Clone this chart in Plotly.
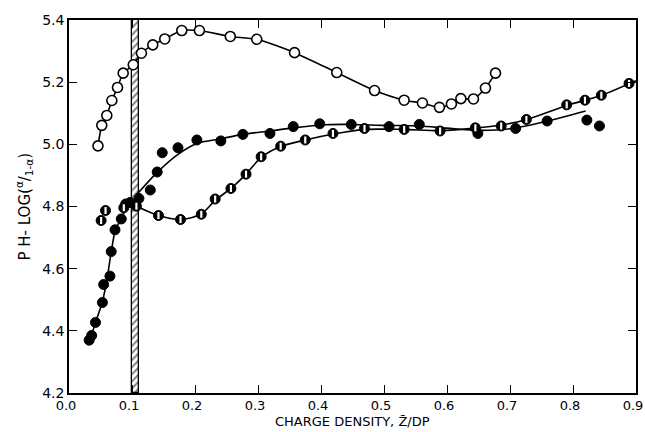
import plotly.graph_objects as go

# ---------------- data ----------------
open_x = [0.046, 0.052, 0.060, 0.068, 0.077, 0.086, 0.102, 0.115, 0.133, 0.152, 0.179, 0.207,
          0.256, 0.298, 0.358, 0.425, 0.485, 0.532, 0.561, 0.588, 0.607, 0.622, 0.642, 0.661, 0.677]
open_y = [4.995, 5.061, 5.093, 5.141, 5.183, 5.229, 5.256, 5.293, 5.320, 5.339, 5.366, 5.366,
          5.347, 5.338, 5.295, 5.231, 5.173, 5.142, 5.133, 5.119, 5.130, 5.147, 5.146, 5.181, 5.229]

filled_x = [0.032, 0.036, 0.042, 0.053, 0.055, 0.065, 0.067, 0.073, 0.083, 0.090, 0.097, 0.111,
            0.129, 0.140, 0.148, 0.173, 0.203, 0.241, 0.276, 0.319, 0.356, 0.398, 0.448, 0.508,
            0.556, 0.649, 0.709, 0.759, 0.822, 0.842]
filled_y = [4.370, 4.385, 4.427, 4.491, 4.549, 4.576, 4.655, 4.725, 4.760, 4.808, 4.813, 4.826,
            4.853, 4.911, 4.973, 4.989, 5.014, 5.011, 5.032, 5.035, 5.057, 5.066, 5.064, 5.057,
            5.064, 5.035, 5.051, 5.075, 5.078, 5.059]

half_x = [0.051, 0.058, 0.087, 0.107, 0.142, 0.177, 0.210, 0.232, 0.257, 0.281, 0.305, 0.336,
          0.375, 0.419, 0.469, 0.532, 0.589, 0.645, 0.686, 0.726, 0.790, 0.819, 0.845, 0.889]
half_y = [4.755, 4.787, 4.796, 4.801, 4.771, 4.758, 4.775, 4.824, 4.858, 4.904, 4.960, 4.994,
          5.014, 5.035, 5.051, 5.048, 5.043, 5.053, 5.059, 5.080, 5.127, 5.142, 5.158, 5.196]

# drawn (fitted) curves
filled_left_curve_x = [0.035, 0.042, 0.053, 0.060, 0.067, 0.073, 0.083, 0.094]
filled_left_curve_y = [4.380, 4.427, 4.491, 4.560, 4.655, 4.725, 4.760, 4.810]
filled_right_curve_x = [0.106, 0.140, 0.173, 0.203, 0.241, 0.276, 0.319, 0.356, 0.408, 0.450,
                        0.500, 0.556, 0.600, 0.650, 0.700, 0.760, 0.820]
filled_right_curve_y = [4.835, 4.910, 4.968, 5.003, 5.018, 5.032, 5.043, 5.053, 5.063, 5.064,
                        5.061, 5.059, 5.052, 5.045, 5.050, 5.075, 5.107]
half_curve_x = [0.108, 0.142, 0.177, 0.210, 0.232, 0.257, 0.281, 0.305, 0.336, 0.375, 0.420,
                0.470, 0.530, 0.590, 0.645, 0.686, 0.727, 0.790, 0.845, 0.900]
half_curve_y = [4.800, 4.771, 4.758, 4.776, 4.820, 4.858, 4.904, 4.958, 4.993, 5.014, 5.033,
                5.048, 5.048, 5.044, 5.052, 5.062, 5.080, 5.125, 5.158, 5.205]

band_x = [0.0995, 0.1115]          # hatched band (x extent)
x_range = [0.0, 0.9]
y_range = [4.2, 5.4]
x_ticks = [0.0, 0.1, 0.2, 0.3, 0.4, 0.5, 0.6, 0.7, 0.8, 0.9]
x_tick_labels = ["0.0", "0.1", "0.2", "0.3", "0.4", "0.5", "0.6", "0.7", "0.8", "0.9"]
y_ticks = [4.2, 4.4, 4.6, 4.8, 5.0, 5.2, 5.4]
y_tick_labels = ["4.2", "4.4", "4.6", "4.8", "5.0", "5.2", "5.4"]

FONT = "DejaVu Sans"
LW = 1.6

fig = go.Figure()

# hatched band
fig.add_trace(go.Bar(
    x=[(band_x[0] + band_x[1]) / 2], y=[y_range[1] - y_range[0]], base=[y_range[0]],
    width=[band_x[1] - band_x[0]],
    marker=dict(color="white", line=dict(color="black", width=1.3),
                pattern=dict(shape="/", fgcolor="black", bgcolor="white", size=5, solidity=0.4)),
    hoverinfo="skip", showlegend=False))

# curves
line_style = dict(color="black", width=LW)
fig.add_trace(go.Scatter(x=open_x, y=open_y, mode="lines",
                         line=dict(color="black", width=LW, shape="spline", smoothing=0.6),
                         showlegend=False, hoverinfo="skip"))
fig.add_trace(go.Scatter(x=filled_left_curve_x, y=filled_left_curve_y, mode="lines",
                         line=line_style, showlegend=False, hoverinfo="skip"))
fig.add_trace(go.Scatter(x=filled_right_curve_x, y=filled_right_curve_y, mode="lines",
                         line=dict(color="black", width=LW, shape="spline", smoothing=0.8),
                         showlegend=False, hoverinfo="skip"))
fig.add_trace(go.Scatter(x=half_curve_x, y=half_curve_y, mode="lines",
                         line=dict(color="black", width=LW, shape="spline", smoothing=0.8),
                         showlegend=False, hoverinfo="skip"))

# markers
fig.add_trace(go.Scatter(x=open_x, y=open_y, mode="markers",
                         marker=dict(symbol="circle", size=10, color="white",
                                     line=dict(color="black", width=1.6)),
                         showlegend=False))
fig.add_trace(go.Scatter(x=filled_x, y=filled_y, mode="markers",
                         marker=dict(symbol="circle", size=10, color="black",
                                     line=dict(color="black", width=1)),
                         showlegend=False))
fig.add_trace(go.Scatter(x=half_x, y=half_y, mode="markers",
                         marker=dict(symbol="circle", size=10, color="black",
                                     line=dict(color="black", width=1)),
                         showlegend=False))
fig.add_trace(go.Scatter(x=half_x, y=half_y, mode="markers",
                         marker=dict(symbol="line-ns-open", size=5, color="white",
                                     line=dict(color="white", width=2.2)),
                         showlegend=False, hoverinfo="skip"))

axis_common = dict(showgrid=False, zeroline=False, showline=True, linecolor="black",
                   linewidth=LW, mirror="ticks", ticks="inside", ticklen=8, tickwidth=1.3,
                   tickcolor="black")

fig.update_layout(
    width=645, height=432,
    margin=dict(l=69, r=2, t=20, b=39),
    paper_bgcolor="white", plot_bgcolor="white",
    bargap=0,
    xaxis=dict(range=x_range, tickvals=x_ticks, ticktext=x_tick_labels,
               ticklabeloverflow="allow", ticklabelshift=-3,
               tickfont=dict(family=FONT, size=13, color="black"), **axis_common),
    yaxis=dict(range=y_range, tickvals=y_ticks, ticktext=y_tick_labels,
               tickfont=dict(family=FONT, size=14, color="black"), **axis_common),
    annotations=[
        dict(text="CHARGE DENSITY, Z̄/DP", xref="paper", yref="paper", x=0.5, y=0,
             yshift=-28, xanchor="center", yanchor="middle", showarrow=False,
             font=dict(family=FONT, size=13, color="black")),
        dict(text="P H- LOG(<sup>α</sup>/<sub>1-α</sub>)", xref="paper", yref="paper",
             x=0, y=0.5, xshift=-45, xanchor="center", yanchor="middle", textangle=-90,
             showarrow=False, font=dict(family=FONT, size=15, color="black")),
    ],
)

fig.write_html("out.html", config={"displayModeBar": False})
